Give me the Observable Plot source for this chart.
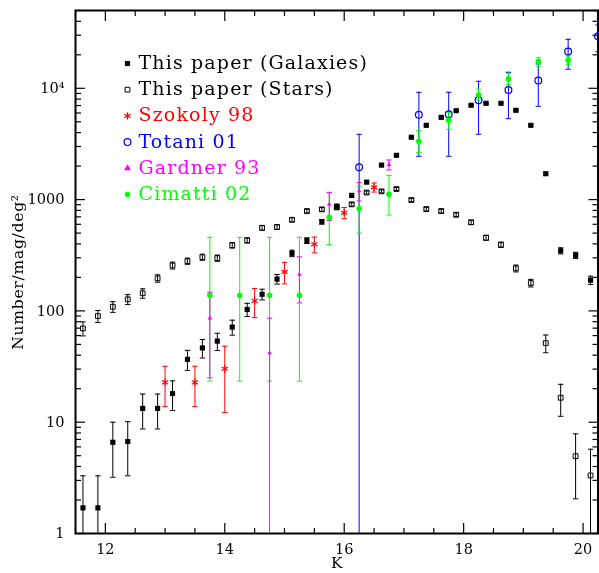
<!DOCTYPE html>
<html>
<head>
<meta charset="utf-8">
<script src="https://cdn.jsdelivr.net/npm/d3@7"></script>
<script src="https://cdn.jsdelivr.net/npm/@observablehq/plot@0.6"></script>
<style>
  html, body { margin: 0; padding: 0; background: #fff; }
</style>
</head>
<body>
<div id="chart"></div>
<script>
// K-band differential number counts (per mag per square degree)

// This paper: bins of 0.25 mag
const binK = [11.625, 11.875, 12.125, 12.375, 12.625, 12.875, 13.125, 13.375, 13.625, 13.875,
              14.125, 14.375, 14.625, 14.875, 15.125, 15.375, 15.625, 15.875, 16.125, 16.375,
              16.625, 16.875, 17.125, 17.375, 17.625, 17.875, 18.125, 18.375, 18.625, 18.875,
              19.125, 19.375, 19.625, 19.875, 20.125];
const galaxyN = [1.7, 1.7, 6.6, 6.7, 13.3, 13.3, 18.1, 36.7, 46.5, 53.5,
                 71.5, 103, 141, 193, 329, 428, 632, 872, 1092, 1435,
                 2040, 2500, 3630, 4650, 5480, 6290, 7040, 7330, 7330, 6340,
                 4650, 1708, 347, 316, 189];
const galaxyErr = [1.6, 1.6, 3.4, 3.4, 4.6, 4.6, 5.4, 7.5, 8.8, 9.4,
                   11, 14, 15.5, 19, 22, 25, 30, 36, 40, 45,
                   55, 60, 75, 85, 90, 100, 100, 110, 110, 100,
                   85, 45, 22, 20, 16];
const starN = [69.6, 89.8, 109, 127, 144, 196, 256, 280, 304, 298,
               389, 430, 558, 567, 659, 789, 817, 850, 906, 1158,
               1186, 1244, 991, 822, 789, 731, 625, 454, 393, 241,
               178, 51.4, 16.6, 4.95, 3.32];
const starErr = [10, 11, 12, 13, 14, 15, 18, 18, 19, 19,
                 22, 23, 26, 26, 28, 30, 31, 31, 32, 36,
                 37, 38, 34, 31, 30, 29, 27, 23, 21, 17,
                 14, 9.3, 5.3, 2.9, 2.4];

// Szokoly et al. 1998
const szokolyK = [13.0, 13.5, 14.0, 14.5, 15.0, 15.5, 16.0, 16.5];
const szokolyN = [22.8, 22.8, 30.2, 123, 224, 396, 762, 1289];
const szokolyErr = [9, 9, 18, 36, 49, 64, 88, 120];

// Totani et al. 2001
const totaniK = [16.25, 17.25, 17.75, 18.25, 18.75, 19.25, 19.75, 20.25];
const totaniN = [1950, 5790, 5840, 7800, 9660, 11720, 21380, 29350];
const totaniLo = [0, 2450, 2450, 3860, 5330, 6890, 14820, 21300];
const totaniHi = [3860, 9200, 9200, 11560, 13930, 16550, 27560, 37100];

// Gardner et al. 1993
const gardnerK = [13.75, 14.75, 15.25, 15.75, 16.25, 16.75];
const gardnerN = [86, 42, 213, 906, 1195, 2060];
const gardnerLo = [25, 0, 118, 650, 971, 1845];
const gardnerHi = [147, 86, 306, 1162, 1419, 2270];

// Cimatti et al. 2002
const cimattiK = [13.75, 14.25, 14.75, 15.25, 15.75, 16.25, 16.75, 17.25, 17.75, 18.25, 18.75, 19.25, 19.75];
const cimattiN = [138, 138, 138, 138, 692, 828, 1115, 3340, 5150, 8710, 12190, 17370, 17860];
const cimattiLo = [23.4, 23.4, 23.4, 23.4, 396, 500, 727, 2660, 4280, 7850, 10860, 15770, 16430];
const cimattiHi = [458, 458, 458, 458, 1153, 1320, 1652, 4160, 6110, 9840, 13640, 18850, 19500];

// Axis ticks and labels
const xDomain = [11.5, 20.25];
const yDomain = [1, 5e4];
const xMajor = [12, 14, 16, 18, 20];
const yMajor = [1, 10, 100, 1000, 10000];
const yTickLabels = ["1", "10", "100", "1000", "10\u2074"];
const xTitle = "K";
const yTitle = "Number/mag/deg\u00b2";

const legendLabels = ["This paper (Galaxies)", "This paper (Stars)", "Szokoly 98", "Totani 01", "Gardner 93", "Cimatti 02"];

// ---- derived tables ----
const belowFrame = yDomain[0] / 100; // error bars reaching zero run off the bottom and are clipped
const clampLow = v => (v > 0 ? v : belowFrame);

const symRows = (K, N, E) => K.map((k, i) => ({k, n: N[i], lo: clampLow(N[i] - E[i]), hi: N[i] + E[i]}));
const asymRows = (K, N, L, H) => K.map((k, i) => ({k, n: N[i], lo: clampLow(L[i]), hi: H[i]}));

const galaxies = symRows(binK, galaxyN, galaxyErr);
const stars = symRows(binK, starN, starErr);
const szokoly = symRows(szokolyK, szokolyN, szokolyErr);
const totani = asymRows(totaniK, totaniN, totaniLo, totaniHi);
const gardner = asymRows(gardnerK, gardnerN, gardnerLo, gardnerHi);
const cimatti = asymRows(cimattiK, cimattiN, cimattiLo, cimattiHi);

const xMinor = d3.range(xDomain[0], xDomain[1] + 0.01, 0.5).filter(v => !xMajor.includes(v));
const yMinor = yMajor.flatMap(d => d3.range(2, 10).map(m => m * d)).filter(v => v <= yDomain[1]);

// horizontal cap drawn at each end of an error bar
const cap = {draw(ctx) { ctx.moveTo(-2.7, 0); ctx.lineTo(2.7, 0); }};

function errorBars(rows, color, extra = {}) {
  const common = {x: "k", stroke: color, strokeWidth: 1, clip: true, ...extra};
  return [
    Plot.ruleX(rows, {...common, y1: "lo", y2: "hi"}),
    Plot.dot(rows, {...common, y: "lo", symbol: cap, fill: "none"}),
    Plot.dot(rows, {...common, y: "hi", symbol: cap, fill: "none"})
  ];
}

// marker styles for each data set, in legend order
const RED = "#ff0000", BLUE = "#0000ff", MAGENTA = "#ff00ff", GREEN = "#00ff00";
const markerStyles = [
  {symbol: "square", r: 2.9, fill: "black", stroke: "none"},
  {symbol: "square", r: 2.7, fill: "none", stroke: "black", strokeWidth: 1},
  {symbol: "asterisk", r: 3.4, fill: "none", stroke: RED, strokeWidth: 1.2},
  {symbol: "circle", r: 3.4, fill: "none", stroke: BLUE, strokeWidth: 1.2},
  {symbol: "triangle", r: 2.6, fill: MAGENTA, stroke: "none"},
  {symbol: "circle", r: 2.8, fill: GREEN, stroke: "none"}
];
const textColors = ["black", "black", RED, BLUE, MAGENTA, GREEN];

const legendMarks = legendLabels.flatMap((label, i) => [
  Plot.dot([label], {frameAnchor: "top-left", dx: 52, dy: 53 + 26.2 * i, ...markerStyles[i]}),
  Plot.text([label], {frameAnchor: "top-left", dx: 63, dy: 52.5 + 26.2 * i, text: d => d,
                      textAnchor: "start", lineAnchor: "middle", fill: textColors[i], fontSize: 19})
]);

const points = (rows, i, extra = {}) => Plot.dot(rows, {x: "k", y: "n", ...markerStyles[i], ...extra});

const chart = Plot.plot({
  width: 599,
  height: 573,
  marginLeft: 75,
  marginRight: 1.5,
  marginTop: 10,
  marginBottom: 40,
  style: {fontFamily: "'DejaVu Serif', serif", fontSize: "14.5px", background: "white", color: "black"},
  x: {domain: xDomain, label: null},
  y: {type: "log", domain: yDomain, label: null},
  marks: [
    // inward ticks on all four sides
    Plot.axisX({anchor: "bottom", ticks: xMajor, tickSize: -10, tickPadding: 20, tickFormat: d => String(d), strokeWidth: 1.2, label: null}),
    Plot.axisX({anchor: "bottom", ticks: xMinor, tickSize: -5, tickFormat: () => "", strokeWidth: 1.2, label: null}),
    Plot.axisX({anchor: "top", ticks: xMajor, tickSize: -10, tickFormat: () => "", strokeWidth: 1.2, label: null}),
    Plot.axisX({anchor: "top", ticks: xMinor, tickSize: -5, tickFormat: () => "", strokeWidth: 1.2, label: null}),
    Plot.axisY({anchor: "left", ticks: yMajor, tickSize: -10, tickPadding: 21,
                tickFormat: d => yTickLabels[yMajor.indexOf(d)], strokeWidth: 1.2, label: null}),
    Plot.axisY({anchor: "left", ticks: yMinor, tickSize: -6, tickFormat: () => "", strokeWidth: 1.2, label: null}),
    Plot.axisY({anchor: "right", ticks: yMajor, tickSize: -10, tickFormat: () => "", strokeWidth: 1.2, label: null}),
    Plot.axisY({anchor: "right", ticks: yMinor, tickSize: -6, tickFormat: () => "", strokeWidth: 1.2, label: null}),
    Plot.frame({stroke: "black", strokeWidth: 2}),

    // error bars
    ...errorBars(stars, "black"),
    ...errorBars(galaxies, "black"),
    ...errorBars(szokoly, RED),
    ...errorBars(totani, BLUE),
    ...errorBars(cimatti, GREEN),
    ...errorBars(gardner, MAGENTA, {mixBlendMode: "multiply"}),

    // data points
    points(stars, 1),
    points(galaxies, 0),
    points(szokoly, 2),
    points(totani, 3),
    points(cimatti, 5),
    points(gardner, 4, {r: 1.7}),

    // axis titles
    Plot.text([yTitle], {frameAnchor: "left", dx: -57, rotate: -90, text: d => d, fontSize: 15.5,
                         textAnchor: "middle", lineAnchor: "middle"}),
    Plot.text([xTitle], {frameAnchor: "bottom", dy: 30, text: d => d, fontSize: 15.5,
                         textAnchor: "middle", lineAnchor: "middle"}),

    ...legendMarks
  ]
});

// the wide lettering of the legend and the axis title
d3.select(chart).selectAll("text")
  .filter(function () { return legendLabels.includes(this.textContent); })
  .style("letter-spacing", "1.15px");
d3.select(chart).selectAll("text")
  .filter(function () { return this.textContent === yTitle; })
  .style("letter-spacing", "0.75px");

document.getElementById("chart").append(chart);
</script>
</body>
</html>
